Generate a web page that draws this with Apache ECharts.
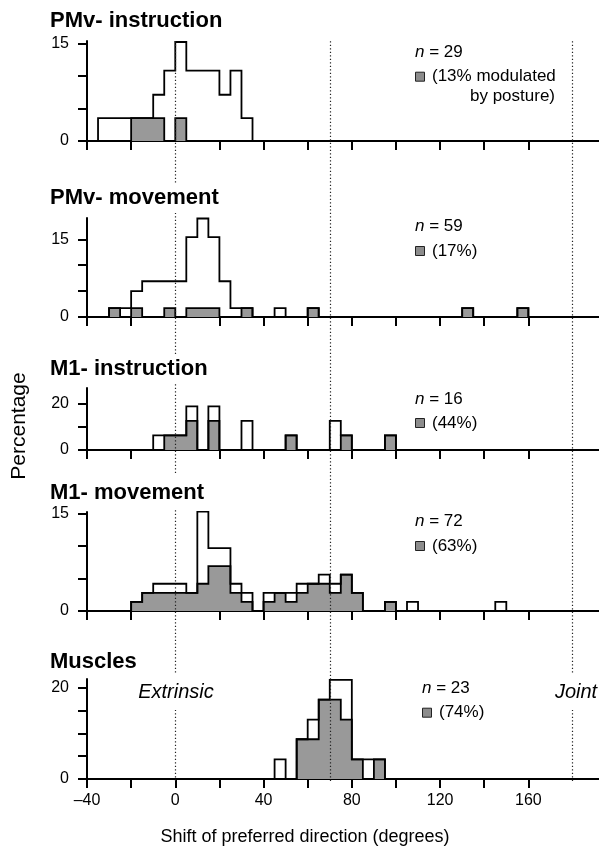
<!DOCTYPE html>
<html><head><meta charset="utf-8">
<script src="https://cdn.jsdelivr.net/npm/echarts@6/dist/echarts.min.js"></script>
<style>html,body{margin:0;padding:0;background:#fff}#c{width:599px;height:846px}</style>
</head><body><div id="c"></div>
<script>
// ---------- data (percentage of cells per 5-degree bin; bins given by left edge) ----------
const BIN = 5;
const refLines = [0, 70, 180];

const pmvInstrBins  = [-35, -30, -25, -20, -15, -10, -5, 0, 5, 10, 15, 20, 25, 30];
const pmvInstrTotal = [3.5, 3.5, 3.5, 3.5, 3.5, 7.1, 10.8, 15.2, 10.8, 10.8, 10.8, 7.1, 10.8, 3.5];
const pmvInstrMod   = [0, 0, 0, 3.5, 3.5, 3.5, 0, 3.5, 0, 0, 0, 0, 0, 0];

const pmvMoveBins  = [-30, -25, -20, -15, -10, -5, 0, 5, 10, 15, 20, 25, 30, 45, 60, 130, 155];
const pmvMoveTotal = [1.7, 1.7, 5.0, 6.9, 6.9, 6.9, 6.9, 15.4, 19.0, 15.4, 6.9, 1.7, 1.7, 1.7, 1.7, 1.7, 1.7];
const pmvMoveMod   = [1.7, 0, 1.7, 0, 0, 1.7, 0, 1.7, 1.7, 1.7, 0, 0, 1.7, 0, 1.7, 1.7, 1.7];

const m1InstrBins  = [-10, -5, 0, 5, 15, 30, 50, 70, 75, 95];
const m1InstrTotal = [6.25, 6.25, 6.25, 18.75, 18.75, 12.5, 6.25, 12.5, 6.25, 6.25];
const m1InstrMod   = [0, 6.25, 6.25, 12.5, 12.5, 0, 6.25, 0, 6.25, 6.25];

const m1MoveBins  = [-20, -15, -10, -5, 0, 5, 10, 15, 20, 25, 30, 40, 45, 50, 55, 60, 65, 70, 75, 80, 95, 105, 145];
const m1MoveTotal = [1.4, 2.8, 4.2, 4.2, 4.2, 2.8, 15.3, 9.7, 9.7, 4.2, 2.8, 2.8, 2.8, 2.8, 4.2, 4.2, 5.6, 4.2, 5.6, 2.8, 1.4, 1.4, 1.4];
const m1MoveMod   = [1.4, 2.8, 2.8, 2.8, 2.8, 2.8, 4.2, 6.9, 6.9, 2.8, 1.4, 1.4, 2.8, 1.4, 2.8, 4.2, 4.2, 2.8, 5.6, 2.8, 1.4, 0, 0];

const muscleBins  = [45, 55, 60, 65, 70, 75, 80, 85, 90];
const muscleTotal = [4.3, 8.7, 13.0, 17.4, 21.7, 21.7, 4.3, 4.3, 4.3];
const muscleMod   = [0, 8.7, 8.7, 17.4, 17.4, 13.0, 4.3, 0, 4.3];

const panelTitles = ['PMv- instruction', 'PMv- movement', 'M1- instruction', 'M1- movement', 'Muscles'];
const panelN      = [29, 59, 16, 72, 23];
const panelModTxt = ['(13% modulated', '(17%)', '(44%)', '(63%)', '(74%)'];

const xTickUpper  = [-40, -20, 20, 40, 60, 80, 100, 120, 140, 160];
const xTickBottom = [-40, -20, 0, 20, 40, 60, 80, 100, 120, 140, 160];
const xLabels     = [-40, 0, 40, 80, 120, 160];
const yTicks  = [[0, 5, 10, 15], [0, 5, 10, 15], [0, 10, 20], [0, 5, 10, 15], [0, 5, 10, 15, 20]];
const yLabels = [[0, 15], [0, 15], [0, 20], [0, 15], [0, 20]];
const yMax    = [15.35, 19.1, 26.6, 15.25, 21.9];

// ---------- layout ----------
const X_MIN = -40, X_MAX = 192;
const GL = 87;
const grids = [
  {top: 41, height: 100}, {top: 218, height: 99}, {top: 388, height: 62},
  {top: 512, height: 99}, {top: 679, height: 100}
];
const titleY = [21, 197.5, 369, 492.5, 661.5];
const nY = [52, 226.7, 399, 521.7, 688];
const nX = [415, 415, 415, 415, 422];
const legY = [76.7, 251, 423, 546, 712.7];
const lineGaps = [[183, 213], [355, 382], [473, 508]]; // where the 0° line is broken by titles

const FF = '"Liberation Sans", Arial, sans-serif';
const panels = [
  [pmvInstrBins, pmvInstrTotal, pmvInstrMod],
  [pmvMoveBins, pmvMoveTotal, pmvMoveMod],
  [m1InstrBins, m1InstrTotal, m1InstrMod],
  [m1MoveBins, m1MoveTotal, m1MoveMod],
  [muscleBins, muscleTotal, muscleMod]
];

function stepData(bins, vals) {
  const start = Math.min(...bins) - BIN, end = Math.max(...bins) + BIN;
  const pts = [];
  for (let x = start; x <= end; x += BIN) {
    const i = bins.indexOf(x);
    pts.push([x, i >= 0 ? vals[i] : 0]);
  }
  return pts;
}

const grid = [], xAxis = [], yAxis = [], series = [];
grids.forEach((g, i) => {
  grid.push({left: GL, right: 0, top: g.top, height: g.height, containLabel: false});
  xAxis.push({
    type: 'value', gridIndex: i, min: X_MIN, max: X_MAX, position: 'bottom',
    axisLine: {show: true, onZero: false, lineStyle: {color: '#000', width: 2}},
    axisTick: {show: true, length: 9, lineStyle: {color: '#000', width: 2},
      customValues: i === 4 ? xTickBottom : xTickUpper},
    axisLabel: {show: i === 4, customValues: xLabels, margin: 14, color: '#000',
      fontFamily: FF, fontSize: 16,
      formatter: v => (v < 0 ? '\u2013' + Math.abs(v) : String(v))},
    splitLine: {show: false}
  });
  yAxis.push({
    type: 'value', gridIndex: i, min: 0, max: yMax[i], position: 'left',
    axisLine: {show: true, onZero: false, lineStyle: {color: '#000', width: 2}},
    axisTick: {show: true, length: 9, lineStyle: {color: '#000', width: 2}, customValues: yTicks[i]},
    axisLabel: {show: true, customValues: yLabels[i], margin: 18, color: '#000',
      fontFamily: FF, fontSize: 16,
      formatter: v => (yLabels[i].indexOf(v) >= 0 ? String(v) : '')},
    splitLine: {show: false}
  });
  const [bins, tot, mod] = panels[i];
  series.push({
    type: 'line', xAxisIndex: i, yAxisIndex: i, step: 'end', data: stepData(bins, mod),
    symbol: 'none', showSymbol: false, silent: true, z: 3,
    lineStyle: {color: '#000', width: 1.8, join: 'miter'},
    areaStyle: {color: '#999999', opacity: 1}
  });
  series.push({
    type: 'line', xAxisIndex: i, yAxisIndex: i, step: 'end', data: stepData(bins, tot),
    symbol: 'none', showSymbol: false, silent: true, z: 4,
    lineStyle: {color: '#000', width: 1.8, join: 'miter'}
  });
});

// overlay grid for the dotted reference lines spanning all panels
grid.push({left: GL, right: 0, top: 39, bottom: 846 - 781});
xAxis.push({type: 'value', gridIndex: 5, min: X_MIN, max: X_MAX, show: false});
yAxis.push({type: 'value', gridIndex: 5, min: 0, max: 1, show: false});
series.push({
  type: 'line', xAxisIndex: 5, yAxisIndex: 5, data: [[X_MIN, 0]], symbol: 'none',
  lineStyle: {opacity: 0}, silent: true, z: 1,
  markLine: {
    symbol: ['none', 'none'], silent: true, label: {show: false}, animation: false,
    lineStyle: {type: [1.2, 2.3], color: '#222', width: 1.2},
    data: refLines.map(v => ({xAxis: v}))
  }
});

// ---------- texts ----------
const graphic = [];
function txt(o) {
  return {type: 'text', z: 100, silent: true, style: Object.assign({fill: '#000'}, o)};
}
lineGaps.forEach(gp => {
  graphic.push({type: 'rect', z: 90, silent: true,
    shape: {x: 169, y: gp[0], width: 11, height: gp[1] - gp[0]},
    style: {fill: '#fff', stroke: null}});
});
panelTitles.forEach((t, i) => {
  graphic.push(txt({text: t, x: 50, y: titleY[i], font: 'bold 22px ' + FF,
    align: 'left', verticalAlign: 'middle', textAlign: 'left', textVerticalAlign: 'middle'}));
  graphic.push(txt({text: '{i|n}{r| = ' + panelN[i] + '}', x: nX[i], y: nY[i],
    align: 'left', verticalAlign: 'middle', textAlign: 'left', textVerticalAlign: 'middle',
    rich: {i: {font: 'italic 17px ' + FF, fill: '#000'}, r: {font: '17px ' + FF, fill: '#000'}}}));
  graphic.push({type: 'rect', z: 100, silent: true,
    shape: {x: nX[i] + 0.5, y: legY[i] - 4.5, width: 9, height: 9},
    style: {fill: '#8c8c8c', stroke: '#222', lineWidth: 1}});
  graphic.push(txt({text: panelModTxt[i], x: nX[i] + 17, y: legY[i], font: '17px ' + FF,
    align: 'left', verticalAlign: 'middle', textAlign: 'left', textVerticalAlign: 'middle'}));
});
graphic.push(txt({text: 'by posture)', x: 555, y: 96.7, font: '17px ' + FF,
  align: 'right', verticalAlign: 'middle', textAlign: 'right', textVerticalAlign: 'middle'}));
graphic.push(txt({text: 'Extrinsic', x: 176, y: 692, font: 'italic 20px ' + FF,
  align: 'center', verticalAlign: 'middle', textAlign: 'center', textVerticalAlign: 'middle',
  backgroundColor: '#fff', padding: [8, 2, 8, 2]}));
graphic.push(txt({text: 'Joint', x: 576, y: 692, font: 'italic 20px ' + FF,
  align: 'center', verticalAlign: 'middle', textAlign: 'center', textVerticalAlign: 'middle',
  backgroundColor: '#fff', padding: [8, 2, 8, 2]}));
graphic.push(txt({text: 'Shift of preferred direction (degrees)', x: 305, y: 837, font: '18px ' + FF,
  align: 'center', verticalAlign: 'middle', textAlign: 'center', textVerticalAlign: 'middle'}));
graphic.push({type: 'text', z: 100, silent: true, x: 19, y: 426, rotation: Math.PI / 2,
  style: {text: 'Percentage', x: 0, y: 0, font: '21px ' + FF, fill: '#000',
    align: 'center', verticalAlign: 'middle', textAlign: 'center', textVerticalAlign: 'middle'}});

const chart = echarts.init(document.getElementById('c'), null, {renderer: 'canvas'});
chart.setOption({
  animation: false, backgroundColor: '#fff',
  grid, xAxis, yAxis, series, graphic
});
</script></body></html>
